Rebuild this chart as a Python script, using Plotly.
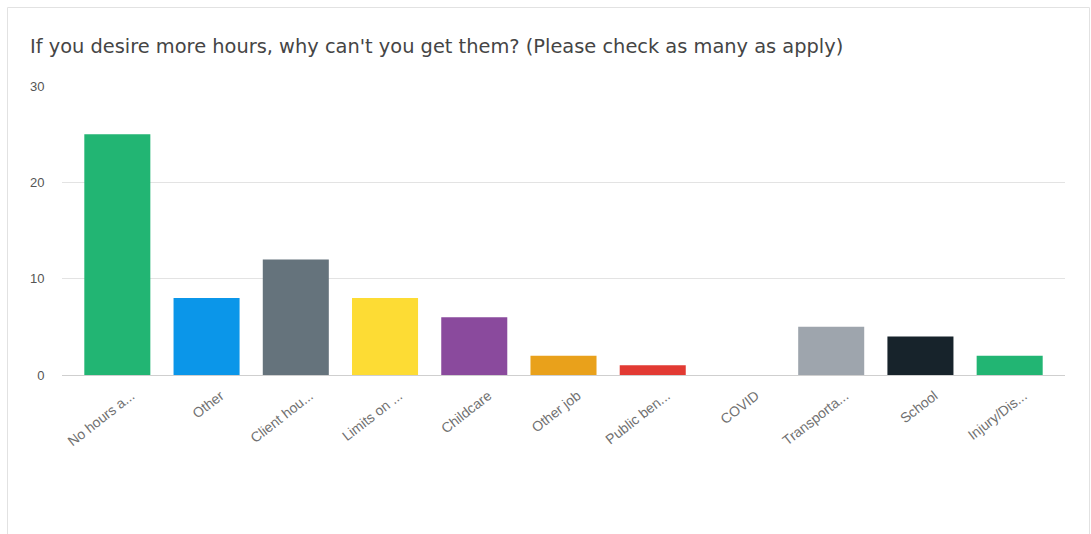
import plotly.graph_objects as go

# Survey responses: reasons respondents can't get more hours
categories = ["No hours a...", "Other", "Client hou...", "Limits on ...", "Childcare",
              "Other job", "Public ben...", "COVID", "Transporta...", "School", "Injury/Dis..."]
counts = [25, 8, 12, 8, 6, 2, 1, 0, 5, 4, 2]
bar_colors = ["#22b573", "#0b96e9", "#65737c", "#fddc34", "#8a4a9d", "#e9a11b",
              "#e23a33", "#cccccc", "#9ea5ad", "#17232b", "#22b573"]
y_ticks = [0, 10, 20, 30]

W, H = 1091, 534
left, right, top, bottom = 62, 1065, 86, 375

fig = go.Figure(go.Bar(
    x=list(range(len(categories))),
    y=counts,
    marker=dict(color=bar_colors, line=dict(width=0)),
    width=0.74,
    hoverinfo="x+y",
))

def px_to_paper_x(px):
    return (px - left) / (right - left)

def px_to_paper_y(py):
    return (bottom - py) / (bottom - top)

# Card outline around the chart
fig.add_shape(type="rect", xref="paper", yref="paper",
              x0=px_to_paper_x(7.5), x1=px_to_paper_x(1089.5),
              y0=px_to_paper_y(540), y1=px_to_paper_y(7.5),
              line=dict(color="#e2e2e2", width=1), fillcolor="rgba(0,0,0,0)", layer="below")

fig.update_layout(
    width=W, height=H,
    margin=dict(l=left, r=W - right, t=top, b=H - bottom, pad=0),
    paper_bgcolor="#ffffff",
    plot_bgcolor="#ffffff",
    showlegend=False,
    title=dict(
        text="If you desire more hours, why can't you get them? (Please check as many as apply)",
        xref="container", yref="container",
        x=30 / W, xanchor="left",
        y=1 - 46 / H, yanchor="middle",
        font=dict(family="DejaVu Sans", size=19.4, color="#454545"),
    ),
    bargap=0.26,
)

fig.update_xaxes(
    range=[-0.62, len(categories) - 1 + 0.62],
    tickmode="array",
    tickvals=list(range(len(categories))),
    ticktext=categories,
    tickangle=-38,
    tickfont=dict(family="Liberation Sans", size=14, color="#707070"),
    ticklabelshift=14,
    ticklabelstandoff=9,
    showgrid=False,
    showline=False,
    zeroline=False,
    ticks="",
    fixedrange=True,
)

fig.update_yaxes(
    range=[0, 30],
    tickmode="array",
    tickvals=y_ticks,
    ticktext=[str(v) for v in y_ticks],
    tickfont=dict(family="Liberation Sans", size=13, color="#555555"),
    showgrid=True,
    gridcolor="#e3e3e3",
    gridwidth=1,
    zeroline=True,
    zerolinecolor="#cfcfcf",
    zerolinewidth=1,
    ticks="outside",
    ticklen=14,
    tickcolor="rgba(0,0,0,0)",
    showline=False,
    fixedrange=True,
)

fig.write_html("out.html")
